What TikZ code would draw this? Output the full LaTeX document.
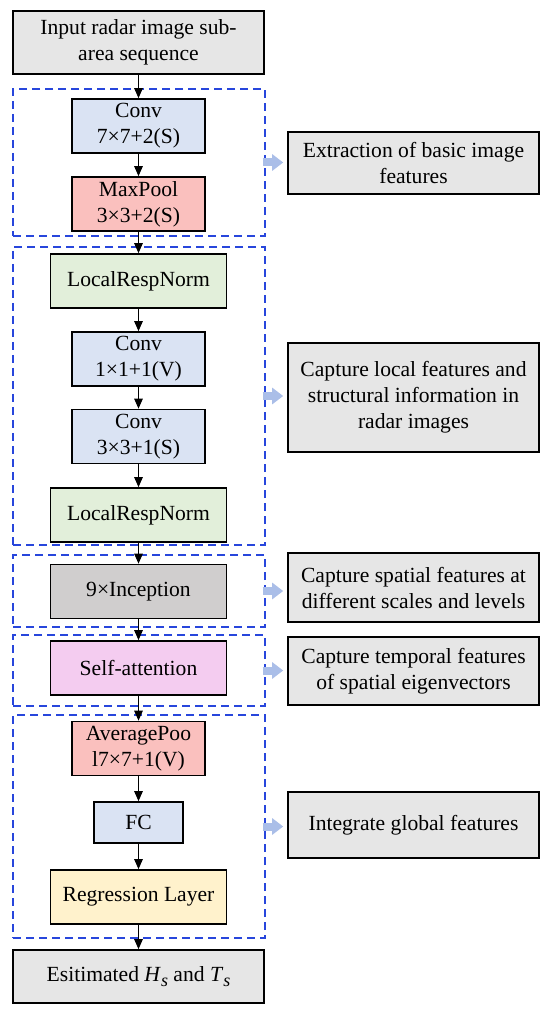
\documentclass[tikz,border=0pt]{standalone}
\usepackage{fontspec}
\setmainfont{Liberation Serif}
\usetikzlibrary{arrows.meta}

\definecolor{boxgray}{RGB}{230,230,230}
\definecolor{convblue}{RGB}{218,227,243}
\definecolor{poolred}{RGB}{250,192,190}
\definecolor{normgreen}{RGB}{226,239,218}
\definecolor{incgray}{RGB}{208,206,206}
\definecolor{attnpink}{RGB}{244,204,240}
\definecolor{regyellow}{RGB}{255,242,204}
\definecolor{dashblue}{RGB}{40,70,220}
\definecolor{hintblue}{RGB}{170,190,232}

% Subscript in text italics
\newcommand{\subit}[1]{\raisebox{-2.6pt}{\fontsize{9}{9}\selectfont\textit{#1}}}

\begin{document}
\begin{tikzpicture}[x=0.5pt,y=-0.5pt,
    layer/.style={draw, line width=0.8pt, align=center, inner sep=0pt,
        minimum height=27pt, font=\fontsize{10.8}{13}\selectfont},
    group/.style={draw=dashblue, line width=0.7pt, dash pattern=on 4pt off 2.5pt,
        minimum width=126pt, inner sep=0pt},
    flow/.style={line width=0.7pt, -{Triangle[length=5pt,width=4.2pt]}},
    hint/.style={hintblue, line width=4pt, -{Triangle[length=5.5pt,width=8pt]},
        shorten <=-1.5pt, shorten >=2pt}
]
    % Picture size (pixels of the reference)
    \useasboundingbox (0,0) rectangle (550,1015);

    % Column centers
    \def\xl{138.5} % main column
    \def\xr{413.5} % description column

    % Dashed groups
    \node[group, minimum height=73.5pt]  (g1) at (139,162.5) {};
    \node[group, minimum height=149pt]   (g2) at (139,396) {};
    \node[group, minimum height=36pt]    (g3) at (139,591) {};
    \node[group, minimum height=35.5pt]  (g4) at (139,670.5) {};
    \node[group, minimum height=111.5pt] (g5) at (139,826.5) {};

    % Main column layers
    \node[layer, fill=boxgray, minimum width=125.5pt, minimum height=31.5pt] (in) at (\xl,42.5) {Input radar image sub-\\area sequence};
    \node[layer, fill=convblue, minimum width=66.5pt] (conv1) at (\xl,126) {Conv\\7×7+2(S)};
    \node[layer, fill=poolred, minimum width=66.5pt] (pool1) at (\xl,204) {MaxPool\\3×3+2(S)};
    \node[layer, fill=normgreen, minimum width=88pt] (lrn1) at (\xl,281) {LocalRespNorm};
    \node[layer, fill=convblue, minimum width=66.5pt] (conv2) at (\xl,359) {Conv\\1×1+1(V)};
    \node[layer, fill=convblue, minimum width=66.5pt] (conv3) at (\xl,436.5) {Conv\\3×3+1(S)};
    \node[layer, fill=normgreen, minimum width=88pt] (lrn2) at (\xl,515) {LocalRespNorm};
    \node[layer, fill=incgray, minimum width=88pt] (inc) at (\xl,591.5) {9×Inception};
    \node[layer, fill=attnpink, minimum width=88pt] (attn) at (\xl,668) {Self-attention};
    \node[layer, fill=poolred, minimum width=66.5pt] (pool2) at (\xl,748.5) {AveragePoo\\l7×7+1(V)};
    \node[layer, fill=convblue, minimum width=44.5pt, minimum height=20.5pt] (fc) at (\xl,822.5) {FC};
    \node[layer, fill=regyellow, minimum width=88pt] (reg) at (\xl,897) {Regression Layer};
    \node[layer, fill=boxgray, minimum width=125.5pt, minimum height=26.5pt] (out) at (\xl,976.5) {Esitimated \textit{H}\subit{s} and \textit{T}\subit{s}};

    % Arrows between layers
    \foreach \a/\b in {in/conv1, conv1/pool1, pool1/lrn1, lrn1/conv2, conv2/conv3,
        conv3/lrn2, lrn2/inc, inc/attn, attn/pool2, pool2/fc, fc/reg, reg/out}
        \draw[flow] (\a) -- (\b);

    % Descriptions
    \node[layer, fill=boxgray, minimum width=125.5pt, minimum height=31pt] (d1) at (\xr,163) {Extraction of basic image\\features};
    \node[layer, fill=boxgray, minimum width=125.5pt, minimum height=54.5pt] (d2) at (\xr,397.5) {Capture local features and\\structural information in\\radar images};
    \node[layer, fill=boxgray, minimum width=125.5pt, minimum height=34.5pt] (d3) at (\xr,587.5) {Capture spatial features at\\different scales and levels};
    \node[layer, fill=boxgray, minimum width=125.5pt, minimum height=34pt] (d4) at (\xr,671) {Capture temporal features\\of spatial eigenvectors};
    \node[layer, fill=boxgray, minimum width=125.5pt, minimum height=33pt] (d5) at (\xr,825) {Integrate global features};

    % Hint arrows from groups to descriptions
    \foreach \g/\d in {g1/d1, g2/d2, g3/d3, g4/d4, g5/d5}
        \draw[hint] (\g.east) -- (\g.east -| \d.west);

\end{tikzpicture}
\end{document}
